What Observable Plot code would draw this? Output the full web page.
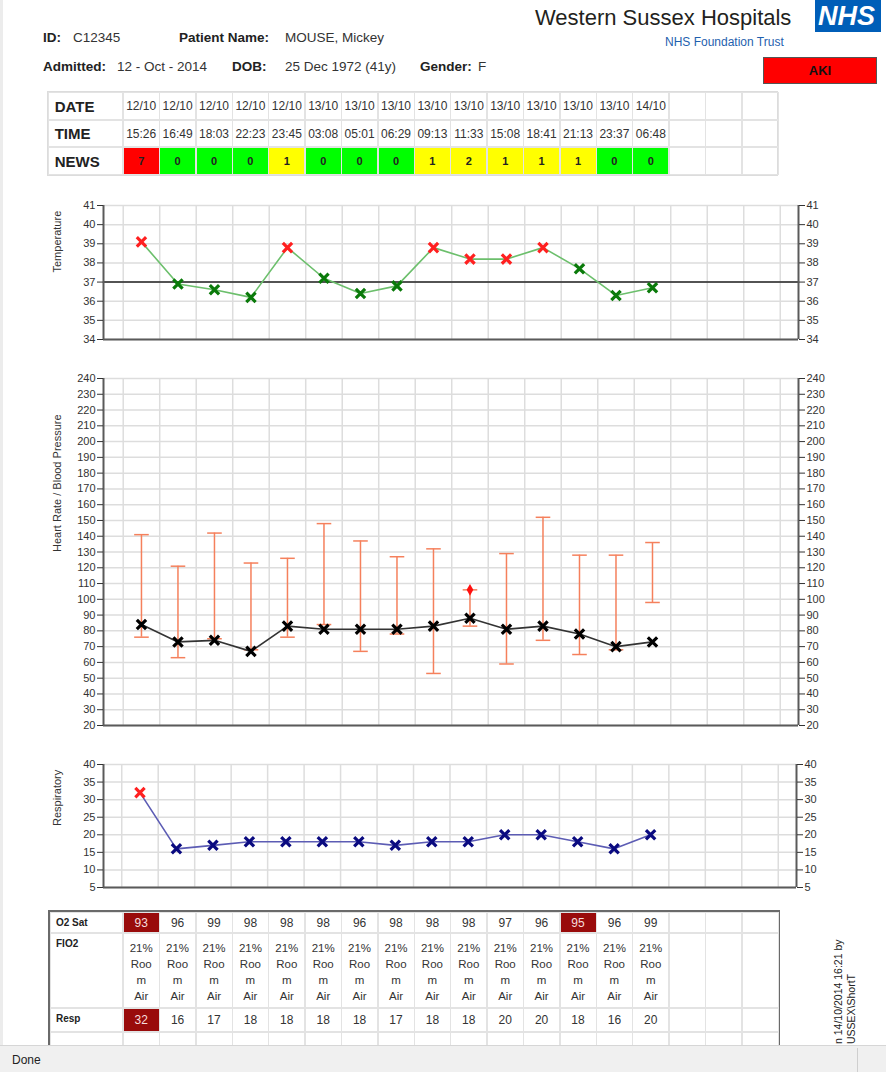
<!DOCTYPE html>
<html>
<head>
<meta charset="utf-8">
<script src="https://cdn.jsdelivr.net/npm/d3@7"></script>
<script src="https://cdn.jsdelivr.net/npm/@observablehq/plot@0.6"></script>
<style>
html,body{margin:0;padding:0;background:#fff;}
#page{position:relative;width:886px;height:1072px;overflow:hidden;background:#fff;font-family:"Liberation Sans",Arial,sans-serif;color:#222;}
.a{position:absolute;white-space:nowrap;}
.hdr{font-size:13.5px;line-height:16px;color:#333;}
.hdr b{color:#222;}
.cell{position:absolute;box-sizing:border-box;border:1px solid #e3e3e3;display:flex;align-items:center;justify-content:center;font-size:12px;color:#333;overflow:hidden;}
</style>
</head>
<body>
<div id="page"></div>
<script>
// ---------------- data ----------------
const dates = ["12/10","12/10","12/10","12/10","12/10","13/10","13/10","13/10","13/10","13/10","13/10","13/10","13/10","13/10","14/10"];
const times = ["15:26","16:49","18:03","22:23","23:45","03:08","05:01","06:29","09:13","11:33","15:08","18:41","21:13","23:37","06:48"];
const newsScores = [7,0,0,0,1,0,0,0,1,2,1,1,1,0,0];
const temperature = [39.1,36.9,36.6,36.2,38.8,37.2,36.4,36.8,38.8,38.2,38.2,38.8,37.7,36.3,36.7];
const heartRate = [84,73,74,67,83,81,81,81,83,88,81,83,78,70,73];
const systolic = [141,121,142,123,126,148,137,127,132,106,129,152,128,128,136];
const diastolic = [76,63,75,68,76,84,67,78,53,83,59,74,65,68,98];
const respiratory = [32,16,17,18,18,18,18,17,18,18,20,20,18,16,20];
const o2Sat = [93,96,99,98,98,98,96,98,98,98,97,96,95,96,99];
const fio2 = ["21% Room Air","21% Room Air","21% Room Air","21% Room Air","21% Room Air","21% Room Air","21% Room Air","21% Room Air","21% Room Air","21% Room Air","21% Room Air","21% Room Air","21% Room Air","21% Room Air","21% Room Air"];
const totalColumns = 18;
const tempTicks = [34,35,36,37,38,39,40,41];
const hrTicks = [20,30,40,50,60,70,80,90,100,110,120,130,140,150,160,170,180,190,200,210,220,230,240];
const respTicks = [5,10,15,20,25,30,35,40];
const tempReference = 37;
const tempAlert = 38.1, respAlert = 21, sysAlert = 110, o2Alert = 95;

const page = document.getElementById("page");
const P = d3.select(page);

// ---------------- header ----------------
P.append("div").attr("class","a").style("left","0px").style("top","0px").style("width","3px").style("height","1045px").style("background","#ececec");
const hdr = [
  ["<b>ID:</b>",43,30],["C12345",73,30],["<b>Patient Name:</b>",179,30],["MOUSE, Mickey",285,30],
  ["<b>Admitted:</b>",43,59],["12 - Oct - 2014",117,59],["<b>DOB:</b>",232,59],["25 Dec 1972 (41y)",285,59],
  ["<b>Gender:</b>",420,59],["F",478,59]
];
hdr.forEach(([h,x,y]) => P.append("div").attr("class","a hdr").style("left",x+"px").style("top",y+"px").html(h));
P.append("div").attr("class","a").style("left","535px").style("top","5px").style("font-size","22px").style("line-height","26px").style("color","#231f20").text("Western Sussex Hospitals");
P.append("div").attr("class","a").style("left","815px").style("top","0px").style("width","66px").style("height","32px")
  .style("background","#005eb8").style("color","#fff").style("font-weight","bold").style("font-style","italic")
  .style("font-size","27px").style("line-height","32px").style("padding-left","3px").style("box-sizing","border-box").text("NHS");
P.append("div").attr("class","a").style("left","665px").style("top","34px").style("font-size","12px").style("line-height","16px").style("color","#1f5fae").text("NHS Foundation Trust");
P.append("div").attr("class","a").style("left","763px").style("top","57px").style("width","114px").style("height","27px")
  .style("background","#ff0000").style("border","1px solid #555").style("box-sizing","border-box")
  .style("display","flex").style("align-items","center").style("justify-content","center")
  .style("font-weight","bold").style("font-size","13px").style("color","#111").text("AKI");

// ---------------- tables ----------------
const colX = i => 122.7 + 36.4 * i, colW = 36.4;
function cell(x, y, w, h, html, st = {}) {
  const c = P.append("div").attr("class","cell").style("left",x+"px").style("top",y+"px").style("width",w+"px").style("height",h+"px").html(html);
  Object.entries(st).forEach(([k,v]) => c.style(k,v));
  return c;
}
// top table
P.append("div").attr("class","a").style("left","47px").style("top","91px").style("width","731px").style("height","85px").style("border","1px solid #dcdcdc").style("box-sizing","border-box");
const topRows = [["DATE",92,28,dates],["TIME",120,27,times],["NEWS",147,28,newsScores]];
topRows.forEach(([lab,y,h,vals]) => {
  cell(47.7, y, 75, h, lab, {"justify-content":"flex-start","padding-left":"6px","font-weight":"bold","font-size":"15px","color":"#222"});
  for (let i = 0; i < totalColumns; i++) {
    const v = vals[i];
    const st = {};
    if (lab === "NEWS" && v !== undefined) {
      st.background = v >= 5 ? "#ff0000" : v >= 1 ? "#ffff00" : "#00ff00";
      st["font-weight"] = "bold"; st["font-size"] = "11px"; st.color = "#222";
    }
    cell(colX(i), y, colW + 0.6, h, v === undefined ? "" : String(v), st);
  }
});
// bottom table
P.append("div").attr("class","a").style("left","48px").style("top","910px").style("width","732px").style("height","170px").style("border","2px solid #6a6a6a").style("box-sizing","border-box");
const botRows = [["O2 Sat",912,21],["FIO2",933,75],["Resp",1008,24],["",1032,30]];
botRows.forEach(([lab,y,h],r) => {
  cell(50, y, 73, h, lab, {"justify-content":"flex-start","align-items":"flex-start","padding-left":"5px","padding-top":"4px","font-weight":"bold","font-size":"10px","color":"#222"});
  for (let i = 0; i < totalColumns; i++) {
    let html = "", st = {};
    if (i < o2Sat.length) {
      if (r === 0) { html = String(o2Sat[i]); if (o2Sat[i] <= o2Alert) { st.background = "#990b0b"; st.color = "#f6dede"; } }
      if (r === 1) { html = fio2[i].replace("Room","Roo m").split(" ").join("<br>"); st["flex-direction"]="column"; st["justify-content"]="flex-start"; st["line-height"]="16px"; st["padding-top"]="6px"; st["text-align"]="center"; st["font-size"]="11.5px"; }
      if (r === 2) { html = String(respiratory[i]); if (respiratory[i] >= respAlert) { st.background = "#990b0b"; st.color = "#f6dede"; } }
    }
    cell(colX(i), y, colW + 0.6, h, html, st);
  }
});
// rotated print info
P.append("div").attr("class","a").style("left","832px").style("top","905px").style("height","139px")
  .style("writing-mode","vertical-rl").style("transform","rotate(180deg)").style("font-size","10.5px").style("line-height","13px").style("color","#222")
  .style("text-align","left").style("white-space","pre").text("n 14/10/2014 16:21 by\nUSSEX\\ShortT");

// ---------------- charts ----------------
const points = temperature.map((t, i) => ({col: i + 0.5, temp: t, hr: heartRate[i], sys: systolic[i], dia: diastolic[i], resp: respiratory[i]}));
const boundaries = d3.range(totalColumns + 1);
const intFormat = d3.format("d");

function vitalChart({top, height, marginTop, marginBottom, marginRight, xDomain, yDomain, ticks, label, marks}) {
  const svg = Plot.plot({
    width: 886, height, marginLeft: 103, marginRight, marginTop, marginBottom,
    x: {domain: xDomain, axis: null},
    y: {domain: yDomain},
    style: {fontFamily: '"Liberation Sans", Arial, sans-serif', fontSize: "11px", color: "#333", background: "transparent", overflow: "visible"},
    marks: [
      Plot.ruleX(boundaries, {stroke: "#dddddd", strokeWidth: 1.5}),
      Plot.ruleY(ticks, {stroke: "#dddddd", strokeWidth: 1.5}),
      ...marks,
      Plot.ruleX(xDomain, {stroke: "#5a5a5a", strokeWidth: 2}),
      Plot.ruleY([yDomain[0]], {stroke: "#5a5a5a", strokeWidth: 2}),
      Plot.axisY({anchor: "left", ticks, tickFormat: intFormat, tickSize: 6, tickPadding: 2, label: null}),
      Plot.axisY({anchor: "right", ticks, tickFormat: intFormat, tickSize: 6, tickPadding: 2, label: null}),
      Plot.text([label], {frameAnchor: "left", rotate: -90, dx: -46, fontSize: 11, fill: "#333"})
    ]
  });
  svg.style.position = "absolute";
  svg.style.left = "0px";
  svg.style.top = top + "px";
  page.appendChild(svg);
}

vitalChart({
  top: 195, height: 155, marginTop: 10, marginBottom: 11, marginRight: 88,
  xDomain: [-0.54, 18.5], yDomain: [34, 41], ticks: tempTicks, label: "Temperature",
  marks: [
    Plot.ruleY([tempReference], {stroke: "#222", strokeWidth: 1.5}),
    Plot.line(points, {x: "col", y: "temp", stroke: "#6cbf6c", strokeWidth: 1.6}),
    Plot.dot(points, {x: "col", y: "temp", symbol: "times", r: 4.3, strokeWidth: 3.2,
      stroke: d => d.temp >= tempAlert ? "#ff2020" : "#0a7a0a"})
  ]
});

vitalChart({
  top: 366, height: 371, marginTop: 12, marginBottom: 12, marginRight: 88,
  xDomain: [-0.54, 18.5], yDomain: [20, 240], ticks: hrTicks, label: "Heart Rate / Blood Pressure",
  marks: [
    Plot.ruleX(points, {x: "col", y1: "dia", y2: "sys", stroke: "#f5805c", strokeWidth: 1.5}),
    Plot.link(points, {x1: d => d.col - 0.2, x2: d => d.col + 0.2, y1: "sys", y2: "sys", stroke: "#f5805c", strokeWidth: 1.5}),
    Plot.link(points, {x1: d => d.col - 0.2, x2: d => d.col + 0.2, y1: "dia", y2: "dia", stroke: "#f5805c", strokeWidth: 1.5}),
    Plot.dot(points.filter(d => d.sys <= sysAlert), {x: "col", y: "sys", symbol: "diamond", r: 3.5, fill: "#ff1010"}),
    Plot.line(points, {x: "col", y: "hr", stroke: "#333", strokeWidth: 1.6}),
    Plot.dot(points, {x: "col", y: "hr", symbol: "times", r: 4.3, strokeWidth: 3.2, stroke: "#000"})
  ]
});

vitalChart({
  top: 752, height: 147, marginTop: 12, marginBottom: 12, marginRight: 90,
  xDomain: [-0.5, 18.5], yDomain: [5, 40], ticks: respTicks, label: "Respiratory",
  marks: [
    Plot.line(points, {x: "col", y: "resp", stroke: "#5c5cb4", strokeWidth: 1.6}),
    Plot.dot(points, {x: "col", y: "resp", symbol: "times", r: 4.3, strokeWidth: 3.2,
      stroke: d => d.resp >= respAlert ? "#ff2020" : "#0a0a80"})
  ]
});

// ---------------- status bar ----------------
P.append("div").attr("class","a").style("left","0px").style("top","1045px").style("width","886px").style("height","27px")
  .style("background","#f0f0f0").style("border-top","1px solid #d6d6d6").style("box-sizing","border-box");
P.append("div").attr("class","a").style("left","857px").style("top","1048px").style("width","1px").style("height","24px").style("background","#cfcfcf");
P.append("div").attr("class","a").style("left","12px").style("top","1052px").style("font-size","12px").style("line-height","16px").style("color","#222").text("Done");
</script>
</body>
</html>
